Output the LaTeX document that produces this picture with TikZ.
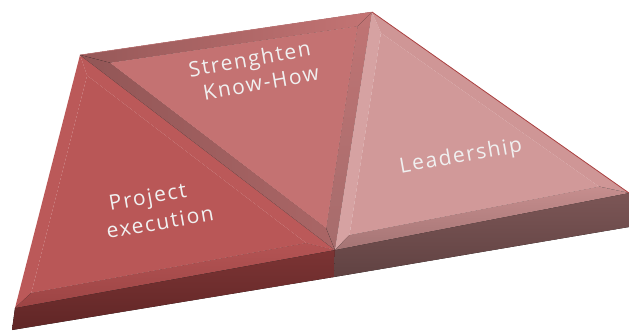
\documentclass[tikz,border=0pt]{standalone}
\usepackage{fontspec}
\setmainfont{Open Sans}
\newfontfamily\lblfont[LetterSpace=8]{Open Sans}
\usetikzlibrary{calc}
\definecolor{baseL}{RGB}{185,87,87}
\definecolor{baseM}{RGB}{196,114,114}
\definecolor{baseR}{RGB}{209,153,153}
\definecolor{frL1}{RGB}{124,52,52}
\definecolor{frL2}{RGB}{96,38,38}
\definecolor{frR1}{RGB}{124,86,86}
\definecolor{frR2}{RGB}{96,66,66}
\definecolor{bLl}{RGB}{187,89,89}
\definecolor{bLb1}{RGB}{180,84,84}
\definecolor{bLb2}{RGB}{156,68,68}
\definecolor{bLd}{RGB}{187,89,89}
\definecolor{bMt1}{RGB}{150,88,88}
\definecolor{bMt2}{RGB}{196,116,116}
\definecolor{bMl1}{RGB}{146,86,86}
\definecolor{bMl2}{RGB}{170,102,102}
\definecolor{bMr1}{RGB}{192,116,116}
\definecolor{bMr2}{RGB}{166,108,108}
\definecolor{bRl}{RGB}{214,162,162}
\definecolor{bRt}{RGB}{207,150,150}
\definecolor{bRb1}{RGB}{198,142,142}
\definecolor{bRb2}{RGB}{164,116,116}
\definecolor{edge1}{RGB}{170,64,64}
\definecolor{edge2}{RGB}{200,120,120}
\definecolor{txt}{RGB}{240,240,240}
\tikzset{
  lbl/.style={text=txt, font=\lblfont\fontsize{21}{26}\selectfont, inner sep=0pt},
}
\begin{document}
\begin{tikzpicture}[x=1pt,y=-1pt]
\useasboundingbox (0,0) rectangle (629,332);
% outer corners of the top face
\coordinate (A) at (80,55);
\coordinate (B) at (372,12);
\coordinate (C) at (629,193);
\coordinate (D) at (15,308);
\coordinate (M) at (335,250);
% bottom of the slab
\coordinate (Cb) at (629,227);
\coordinate (Mb) at (334,277);
\coordinate (Db) at (12,330);
% inner (inset) corners
\coordinate (LA) at (87.1,75.5);
\coordinate (LM) at (306.2,243.0);
\coordinate (LD) at (31.3,292.9);
\coordinate (MA) at (110.0,62.8);
\coordinate (MB) at (357.6,26.3);
\coordinate (MM) at (326.2,228.1);
\coordinate (RB) at (380.9,32.9);
\coordinate (RC) at (599.1,186.6);
\coordinate (RM) at (349.5,235.0);
% front faces
\fill[top color=frL1, bottom color=frL2] (D) -- (M) -- (Mb) -- (Db) -- cycle;
\fill[top color=frR1, bottom color=frR2] (M) -- (C) -- (Cb) -- (Mb) -- cycle;
% left triangle
\fill[bLl] (A) -- (D) -- (LD) -- (LA) -- cycle;
\fill[top color=bLb1, bottom color=bLb2] (D) -- (M) -- (LM) -- (LD) -- cycle;
\fill[bLd] (M) -- (A) -- (LA) -- (LM) -- cycle;
\fill[baseL] (LA) -- (LM) -- (LD) -- cycle;
% middle triangle
\fill[left color=bMt1, right color=bMt2] (A) -- (B) -- (MB) -- (MA) -- cycle;
\fill[left color=bMl1, right color=bMl2] (A) -- (M) -- (MM) -- (MA) -- cycle;
\fill[top color=bMr1, bottom color=bMr2] (B) -- (M) -- (MM) -- (MB) -- cycle;
\fill[baseM] (MA) -- (MB) -- (MM) -- cycle;
% right triangle
\fill[bRl] (B) -- (M) -- (RM) -- (RB) -- cycle;
\fill[bRt] (B) -- (C) -- (RC) -- (RB) -- cycle;
\fill[top color=bRb1, bottom color=bRb2] (C) -- (M) -- (RM) -- (RC) -- cycle;
\fill[baseR] (RB) -- (RC) -- (RM) -- cycle;
% thin edge lines
\draw[edge1, line width=0.8pt] (B) -- (C);
\draw[edge2, line width=0.5pt] (A) -- (B);
% labels
\node[lbl, rotate=10] (t1a) at (148,199) {Project};
\node[lbl, rotate=10] (t1b) at (160,222) {execution};
\node[lbl, rotate=10] (t2a) at (250,61) {Strenghten};
\node[lbl, rotate=10] (t2b) at (261,83) {Know-How};
\node[lbl, rotate=10] (t3) at (461,157) {Leadership};
\end{tikzpicture}
\end{document}
